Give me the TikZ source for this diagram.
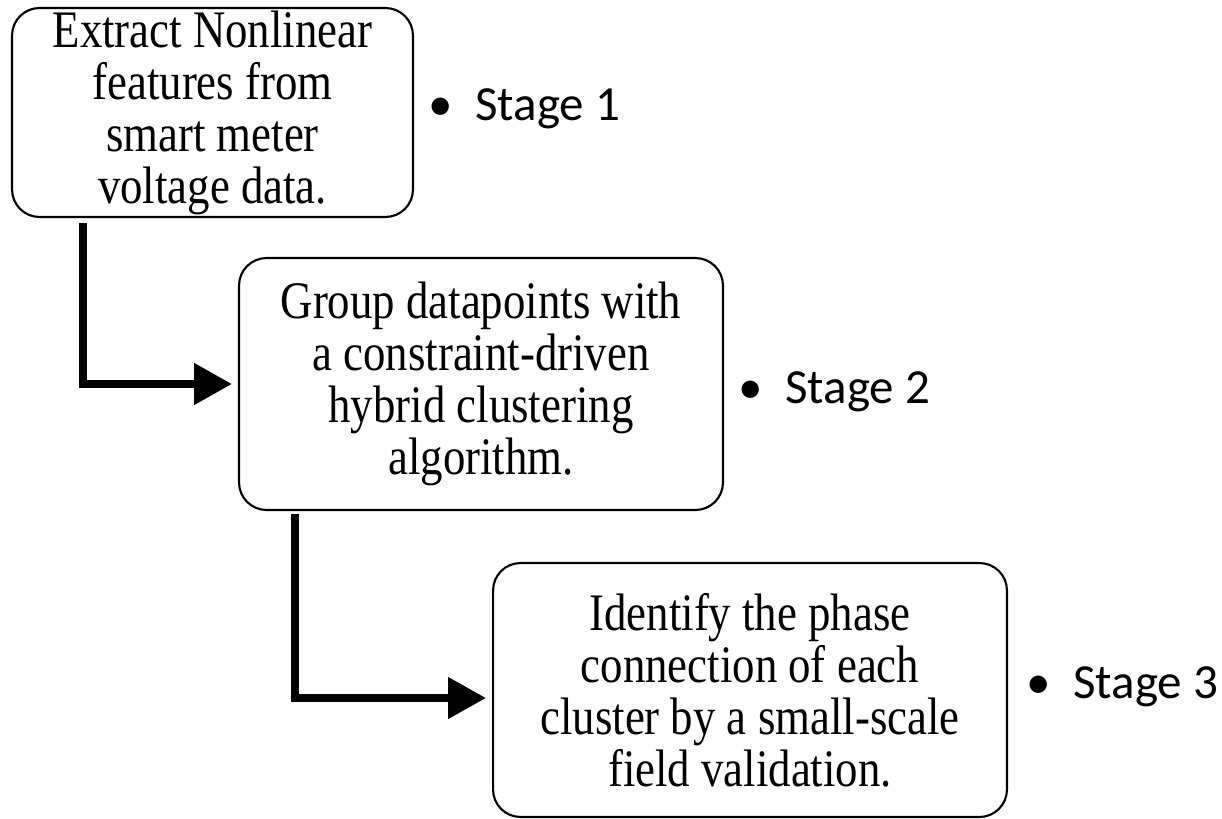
\documentclass[tikz,border=0pt]{standalone}
\usepackage{fontspec}
\setmainfont{Liberation Serif}[FakeStretch=0.85]
\newfontfamily\stagefont{Carlito}
\usetikzlibrary{arrows.meta}
\begin{document}
\begin{tikzpicture}[x=0.02cm,y=-0.02cm,
  stagebox/.style={draw, line width=1.2pt, rounded corners=0.55cm, align=center, inner sep=0pt,
    font=\fontsize{30pt}{29.6pt}\selectfont},
  stagelabel/.style={anchor=base west, inner sep=0pt, font=\stagefont\fontsize{27.9pt}{30pt}\selectfont},
  flowarrow/.style={line width=4.5pt, -{Triangle[length=0.76cm, width=0.8cm]}}]
\useasboundingbox (0,0) rectangle (1222,818);
\node[stagebox, minimum width=8.02cm, minimum height=4.18cm] (a) at (212.5,112.5) {Extract Nonlinear\\ features from\\ smart meter\\ voltage data.};
\node[stagebox, minimum width=9.68cm, minimum height=5.04cm] (b) at (481,384) {Group datapoints with\\ a constraint-driven\\ hybrid clustering\\ algorithm.};
\node[stagebox, minimum width=10.28cm, minimum height=5.08cm] (c) at (750,690) {Identify the phase\\ connection of each\\ cluster by a small-scale\\ field validation.};
\node[stagelabel] (la) at (405,120) {\makebox[1.4cm][c]{\textbullet}Stage 1};
\node[stagelabel] (lb) at (715,403) {\makebox[1.4cm][c]{\textbullet}Stage 2};
\node[stagelabel] (lc) at (1003,698) {\makebox[1.4cm][c]{\textbullet}Stage 3};
\draw[flowarrow] ([xshift=1.44cm, yshift=-0.1cm]a.south west) |- ([xshift=-0.12cm]b.west);
\draw[flowarrow] ([xshift=1.14cm, yshift=-0.06cm]b.south west) |- ([xshift=-0.12cm, yshift=-0.16cm]c.west);
\end{tikzpicture}
\end{document}
